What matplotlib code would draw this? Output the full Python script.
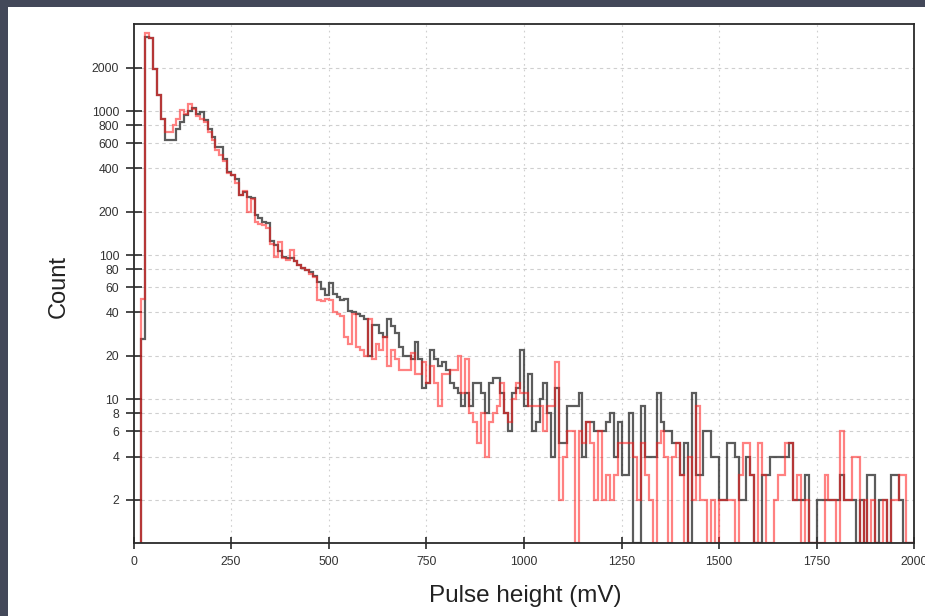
import numpy as np
import matplotlib
matplotlib.use("Agg")
import matplotlib.pyplot as plt
from matplotlib.patches import Rectangle

plt.rcParams['font.family'] = ['Liberation Sans', 'DejaVu Sans']
plt.rcParams['lines.scale_dashes'] = False

bin_width = 10
n_bins = 200

gray_counts = [
    0, 0, 26, 3270, 3200, 1970, 1285, 885, 627, 627,
    627, 755, 840, 934, 995, 1050, 960, 985, 860, 755,
    660, 562, 562, 467, 377, 360, 339, 260, 274, 255,
    250, 189, 181, 170, 168, 126, 117, 106, 97, 95,
    95, 91, 86, 81, 79, 76, 72, 65, 58, 53,
    64, 54, 51, 49, 50, 41, 40, 39, 38, 36,
    20, 33, 33, 29, 27, 36, 32, 29, 23, 20,
    20, 19, 25, 19, 12, 13, 22, 19, 17, 18,
    16, 13, 12, 11, 9, 11, 9, 13, 13, 11,
    8, 13, 14, 14, 11, 8, 6, 11, 12, 22,
    9, 15, 6, 7, 10, 13, 8, 4, 12, 5,
    5, 9, 9, 9, 11, 4, 7, 7, 6, 6,
    6, 7, 8, 4, 7, 3, 3, 8, 1, 1,
    9, 4, 4, 4, 11, 7, 6, 6, 5, 5,
    3, 5, 1, 11, 3, 3, 6, 6, 4, 4,
    2, 2, 5, 5, 4, 2, 2, 4, 3, 1,
    1, 3, 3, 4, 4, 4, 4, 4, 5, 2,
    2, 2, 3, 1, 1, 2, 2, 2, 2, 2,
    2, 3, 2, 2, 2, 1, 2, 1, 3, 3,
    1, 2, 2, 1, 3, 3, 2, 1, 1, 1,
]

red_counts = [
    0, 0, 50, 3500, 3200, 1970, 1285, 885, 715, 715,
    795, 885, 1010, 960, 1125, 1040, 930, 885, 840, 715,
    627, 535, 492, 450, 370, 360, 315, 260, 280, 200,
    245, 170, 165, 162, 155, 120, 97, 124, 95, 93,
    109, 91, 86, 81, 79, 74, 70, 49, 48, 50,
    49, 40, 39, 38, 27, 24, 39, 23, 22, 20,
    36, 19, 24, 22, 27, 17, 22, 19, 16, 16,
    16, 21, 15, 15, 18, 13, 17, 13, 9, 15,
    15, 16, 16, 20, 11, 19, 8, 7, 5, 8,
    4, 7, 8, 9, 13, 8, 7, 10, 13, 11,
    11, 9, 9, 9, 9, 6, 9, 9, 18, 2,
    4, 6, 6, 1, 6, 5, 7, 5, 2, 6,
    2, 3, 2, 3, 5, 5, 5, 5, 4, 2,
    5, 3, 2, 1, 5, 6, 4, 1, 4, 5,
    3, 1, 4, 2, 9, 2, 2, 1, 2, 1,
    2, 2, 2, 2, 1, 3, 5, 5, 3, 1,
    5, 3, 1, 1, 2, 3, 3, 5, 5, 2,
    3, 1, 2, 1, 1, 1, 1, 3, 2, 2,
    1, 6, 2, 2, 4, 4, 1, 2, 1, 2,
    1, 1, 2, 1, 2, 2, 3, 3, 1, 1,
]

x_ticks = [0, 250, 500, 750, 1000, 1250, 1500, 1750, 2000]
y_ticks = [2, 4, 6, 8, 10, 20, 40, 60, 80, 100, 200, 400, 600, 800, 1000, 2000]
y_tick_labels = [str(v) for v in y_ticks]

edges = np.arange(n_bins + 1) * bin_width

W, H = 925, 616
fig = plt.figure(figsize=(W / 100, H / 100), dpi=100)
fig.patch.set_facecolor('#434859')
fig.patches.append(Rectangle((8 / W, 0), 1 - 8 / W, 1 - 7 / H,
                             transform=fig.transFigure, facecolor='white',
                             edgecolor='none', zorder=-10))

left, right, top, bottom = 133.5, 914.3, 24.3, 543.3
ax = fig.add_axes([left / W, 1 - bottom / H, (right - left) / W, (bottom - top) / H])
ax.set_zorder(2)
ax.set_facecolor('white')
ax.set_yscale('log', nonpositive='clip')

ax.stairs(gray_counts, edges, baseline=None, color='#333333', alpha=0.8, lw=1.6, zorder=3)
ax.stairs(red_counts, edges, baseline=None, color='#ff1a1a', alpha=0.55, lw=1.6, zorder=4)

ax.set_xlim(0, 2000)
ax.set_ylim(1, 4000)

ax.xaxis.set_major_locator(matplotlib.ticker.FixedLocator(x_ticks))
ax.yaxis.set_major_locator(matplotlib.ticker.FixedLocator(y_ticks))
ax.yaxis.set_minor_locator(matplotlib.ticker.NullLocator())
ax.set_yticklabels(y_tick_labels)
ax.set_xticklabels([str(v) for v in x_ticks])

for yv in y_ticks:
    ax.axhline(yv, color='#cfcfcf', lw=0.8, linestyle=(0, (2.5, 2.5)), zorder=1)
for xv in x_ticks[1:-1]:
    ax.axvline(xv, color='#cfcfcf', lw=0.8, linestyle=(0, (1.2, 2.8)), zorder=1)

for s in ax.spines.values():
    s.set_color('#2a2a2a')
    s.set_linewidth(1.3)
    s.set_zorder(5)

ax.tick_params(axis='y', direction='inout', length=11.5, width=1.2, color='#2a2a2a',
               pad=4.6, labelsize=8.8, labelcolor='#333333')
ax.tick_params(axis='x', direction='inout', length=8.6, width=1.2, color='#2a2a2a',
               pad=4.6, labelsize=8.8, labelcolor='#333333')

fig.text(59 / W, 1 - 286 / H, 'Count', rotation=90, ha='center', va='center',
         fontsize=17, color='#222222', zorder=3)
fig.text(525 / W, 1 - 596 / H, 'Pulse height (mV)', ha='center', va='center',
         fontsize=17.5, color='#222222', zorder=3)

fig.savefig('out.png', dpi=100, facecolor=fig.get_facecolor())
